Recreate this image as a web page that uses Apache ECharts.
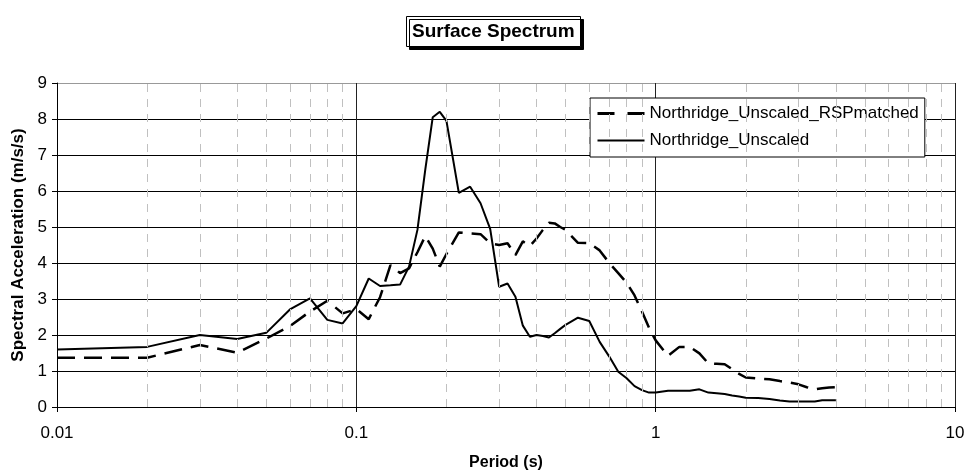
<!DOCTYPE html>
<html>
<head>
<meta charset="utf-8">
<script src="https://cdn.jsdelivr.net/npm/echarts@6/dist/echarts.min.js"></script>
<style>html,body{margin:0;padding:0;background:#fff}#c{width:966px;height:476px}</style>
</head>
<body>
<div id="c"></div>
<script>
const periods = [0.01,0.02,0.03,0.04,0.05,0.06,0.07,0.08,0.09,
  0.1,0.11,0.12,0.13,0.14,0.15,0.16,0.17,0.18,0.19,0.2,
  0.22,0.24,0.26,0.28,0.3,0.32,0.34,0.36,0.38,0.4,0.42,0.44,0.46,0.48,0.5,
  0.55,0.6,0.65,0.7,0.75,0.8,0.85,0.9,0.95,1.0,
  1.1,1.2,1.3,1.4,1.5,1.6,1.7,1.8,1.9,2.0,
  2.2,2.4,2.6,2.8,3.0,3.2,3.4,3.6,3.8,4.0];
const rspMatched = [1.37,1.37,1.72,1.51,1.90,2.25,2.65,2.95,2.60,
  2.72,2.44,3.05,3.94,3.72,3.85,4.30,4.75,4.40,3.90,4.25,
  4.85,4.82,4.80,4.55,4.50,4.55,4.22,4.60,4.47,4.68,4.92,5.12,5.10,5.00,4.92,
  4.56,4.55,4.35,4.00,3.72,3.45,3.10,2.65,2.20,1.85,
  1.42,1.67,1.67,1.49,1.21,1.20,1.19,1.05,0.92,0.82,
  0.79,0.77,0.72,0.68,0.63,0.55,0.49,0.52,0.54,0.55];
const unscaled = [1.60,1.67,2.00,1.89,2.06,2.71,3.02,2.42,2.32,
  2.80,3.57,3.36,3.38,3.40,3.90,4.92,6.60,8.05,8.20,7.95,
  5.95,6.12,5.66,4.95,3.34,3.43,3.06,2.26,1.95,2.00,1.97,1.93,2.05,2.17,2.28,
  2.48,2.39,1.81,1.40,0.98,0.80,0.58,0.47,0.40,0.40,
  0.45,0.45,0.45,0.49,0.40,0.38,0.36,0.32,0.29,0.26,
  0.25,0.22,0.18,0.15,0.15,0.15,0.15,0.19,0.19,0.19];
const minorGrid = [0.02,0.03,0.04,0.05,0.06,0.07,0.08,0.09,
  0.2,0.3,0.4,0.5,0.6,0.7,0.8,0.9,
  2,3,4,5,6,7,8,9];
const seriesNames = ['Northridge_Unscaled_RSPmatched','Northridge_Unscaled'];
const titleText = 'Surface Spectrum';
const xName = 'Period (s)';
const yName = 'Spectral Acceleration (m/s/s)';

const FONT = 'Arial, "Liberation Sans", sans-serif';
const pair = (vals) => periods.map((p, i) => [p, vals[i]]);

const chart = echarts.init(document.getElementById('c'), null, {renderer: 'canvas'});
chart.setOption({
  animation: false,
  backgroundColor: '#fff',
  title: {
    text: titleText,
    left: 406, top: 16,
    padding: [6, 6, 6, 6],
    borderColor: '#000', borderWidth: 1,
    backgroundColor: '#fff',
    shadowColor: '#000', shadowBlur: 0, shadowOffsetX: 3, shadowOffsetY: 3,
    textStyle: {fontFamily: FONT, fontSize: 19, fontWeight: 'bold', color: '#000'}
  },
  legend: {
    data: [
      {name: seriesNames[0], itemStyle: {opacity: 0}, lineStyle: {type: [17, 13], width: 3}},
      {name: seriesNames[1], itemStyle: {opacity: 0}, lineStyle: {type: 'solid', width: 2}}
    ],
    orient: 'vertical',
    left: 590, top: 98,
    padding: [7, 6, 8, 6],
    itemGap: 10,
    itemWidth: 47, itemHeight: 14,
    borderColor: '#000', borderWidth: 1,
    backgroundColor: '#fff',
    textStyle: {fontFamily: FONT, fontSize: 17, color: '#000'}
  },
  grid: {left: 57, right: 11, top: 83, bottom: 69, containLabel: false, outerBoundsMode: 'none'},
  xAxis: {
    type: 'log', logBase: 10, min: 0.01, max: 10,
    name: xName, nameLocation: 'middle', nameGap: 48,
    nameTextStyle: {fontFamily: FONT, fontSize: 16, fontWeight: 'bold', color: '#000'},
    axisLine: {show: true, lineStyle: {color: '#000', width: 1}},
    axisTick: {show: true, inside: false, length: 5, lineStyle: {color: '#000'}},
    axisLabel: {fontFamily: FONT, fontSize: 17, color: '#000', margin: 18,
      formatter: (v) => String(v)},
    splitLine: {show: true, lineStyle: {color: '#222', width: 1}},
    minorTick: {show: false},
    minorSplitLine: {show: false}
  },
  yAxis: {
    type: 'value', min: 0, max: 9, interval: 1,
    name: yName, nameLocation: 'middle', nameGap: 30,
    nameTextStyle: {fontFamily: FONT, fontSize: 17, fontWeight: 'bold', color: '#000'},
    axisLine: {show: true, lineStyle: {color: '#000', width: 1}},
    axisTick: {show: true, inside: false, length: 5, lineStyle: {color: '#000'}},
    axisLabel: {fontFamily: FONT, fontSize: 17, color: '#000', margin: 10},
    splitLine: {show: true, lineStyle: {color: ['#000','#000','#000','#000','#000','#000','#000','#000','#000','#999'], width: 1}}
  },
  series: [
    {
      name: 'minorGrid', type: 'line', data: [], silent: true, z: 1,
      markLine: {
        silent: true, symbol: ['none', 'none'], animation: false,
        label: {show: false},
        lineStyle: {color: '#c0c0c0', type: [8, 7], width: 1},
        data: minorGrid.map(v => ({xAxis: v}))
      }
    },
    {
      name: seriesNames[0], type: 'line', data: pair(rspMatched),
      symbol: 'none', showSymbol: false, z: 3,
      lineStyle: {color: '#000', width: 2.5, type: [18, 9]},
      itemStyle: {color: '#000'}
    },
    {
      name: seriesNames[1], type: 'line', data: pair(unscaled),
      symbol: 'none', showSymbol: false, z: 4,
      lineStyle: {color: '#000', width: 2, type: 'solid'},
      itemStyle: {color: '#000'}
    }
  ]
});
</script>
</body>
</html>
